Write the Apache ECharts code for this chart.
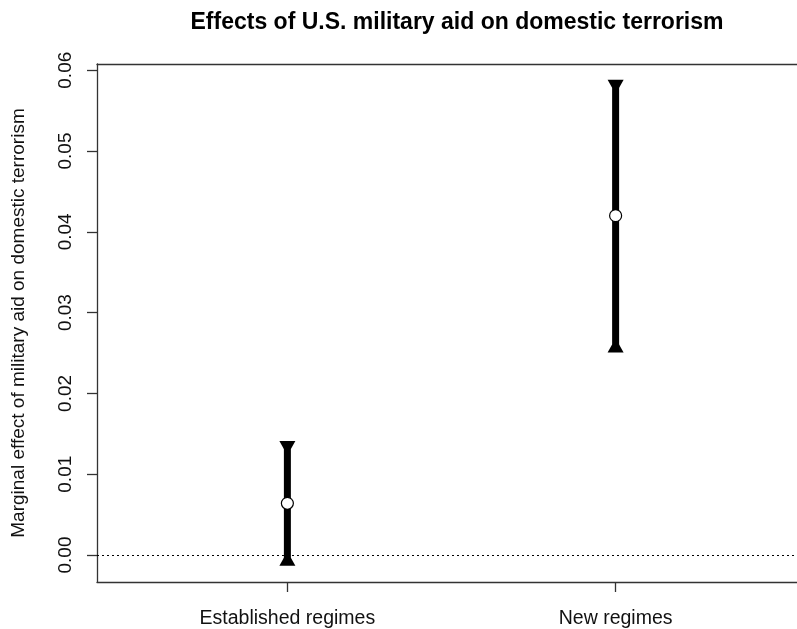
<!DOCTYPE html>
<html>
<head>
<meta charset="utf-8">
<script src="https://cdn.jsdelivr.net/npm/echarts@6/dist/echarts.min.js"></script>
<style>
  html, body { margin: 0; padding: 0; background: #fff; }
  #chart { width: 797px; height: 629px; }
</style>
</head>
<body>
<div id="chart"></div>
<script>
// regime types on the x axis (positions 1 and 2)
const categories = ['Established regimes', 'New regimes']
const positions = [1, 2]
// marginal effect estimates and 95% interval ends
const estimates = [0.0064, 0.0420]
const lower = [-0.0012, 0.0252]
const upper = [0.0140, 0.0587]
const yTicks = [0, 0.01, 0.02, 0.03, 0.04, 0.05, 0.06]

const font = 'Liberation Sans, Arial, sans-serif'
const frame = { color: '#333', width: 1.3 }

const chart = echarts.init(document.getElementById('chart'))

const barData = positions.map((p, i) => [p, lower[i], upper[i], estimates[i]])

// thick interval line with flared caps and an open circle at the estimate
const renderBar = (params, api) => {
  const x = api.value(0)
  const lo = api.coord([x, api.value(1)])
  const hi = api.coord([x, api.value(2)])
  const mid = api.coord([x, api.value(3)])
  const half = 3.5
  const capHalf = 8
  const capH = 7
  return {
    type: 'group',
    children: [
      {
        type: 'rect',
        shape: { x: hi[0] - half, y: hi[1], width: half * 2, height: lo[1] - hi[1] },
        style: { fill: '#000' },
      },
      {
        type: 'polygon',
        shape: {
          points: [
            [hi[0] - capHalf, hi[1] - 1],
            [hi[0] + capHalf, hi[1] - 1],
            [hi[0] + half, hi[1] + capH],
            [hi[0] - half, hi[1] + capH],
          ],
        },
        style: { fill: '#000' },
      },
      {
        type: 'polygon',
        shape: {
          points: [
            [lo[0] - capHalf, lo[1] + 1],
            [lo[0] + capHalf, lo[1] + 1],
            [lo[0] + half, lo[1] - capH],
            [lo[0] - half, lo[1] - capH],
          ],
        },
        style: { fill: '#000' },
      },
      {
        type: 'circle',
        shape: { cx: mid[0], cy: mid[1], r: 6 },
        style: { fill: '#fff', stroke: '#000', lineWidth: 1.2 },
      },
    ],
  }
}

const option = {
  animation: false,
  backgroundColor: '#fff',
  title: {
    text: 'Effects of U.S. military aid on domestic terrorism',
    left: 452,
    textAlign: 'center',
    top: 6,
    textStyle: { fontFamily: font, fontSize: 23, fontWeight: 'bold', color: '#000' },
  },
  grid: {
    left: 97,
    right: -9,
    top: 64,
    bottom: 47,
    outerBoundsMode: 'none',
    containLabel: false,
  },
  xAxis: [
    {
      type: 'value',
      min: 0.42,
      max: 2.58,
      position: 'bottom',
      splitLine: { show: false },
      axisLine: { show: true, onZero: false, lineStyle: frame },
      axisTick: {
        show: true,
        customValues: positions,
        length: 10,
        lineStyle: frame,
      },
      axisLabel: {
        customValues: positions,
        formatter: (v) => categories[positions.indexOf(v)] || '',
        margin: 27,
        fontFamily: font,
        fontSize: 19.5,
        color: '#111',
      },
    },
    {
      // top edge of the plot box
      type: 'value',
      min: 0.42,
      max: 2.58,
      position: 'top',
      splitLine: { show: false },
      axisLine: { show: true, onZero: false, lineStyle: frame },
      axisTick: { show: false },
      axisLabel: { show: false },
    },
  ],
  yAxis: {
    type: 'value',
    min: -0.00334,
    max: 0.06077,
    name: 'Marginal effect of military aid on domestic terrorism',
    nameLocation: 'middle',
    nameGap: 69,
    nameTextStyle: { fontFamily: font, fontSize: 19, color: '#111' },
    splitLine: { show: false },
    axisLine: { show: true, onZero: false, lineStyle: frame },
    axisTick: {
      show: true,
      customValues: yTicks,
      length: 10,
      lineStyle: frame,
    },
    axisLabel: {
      customValues: yTicks,
      rotate: 90,
      margin: 22,
      formatter: (v) => v.toFixed(2),
      fontFamily: font,
      fontSize: 19,
      color: '#111',
    },
  },
  series: [
    {
      type: 'line',
      data: [],
      markLine: {
        silent: true,
        symbol: 'none',
        label: { show: false },
        lineStyle: { type: [2, 3], color: '#000', width: 1.2 },
        data: [{ yAxis: 0 }],
      },
    },
    {
      type: 'custom',
      renderItem: renderBar,
      encode: { x: 0, y: [1, 2] },
      data: barData,
      z: 3,
    },
  ],
}

chart.setOption(option)
</script>
</body>
</html>
